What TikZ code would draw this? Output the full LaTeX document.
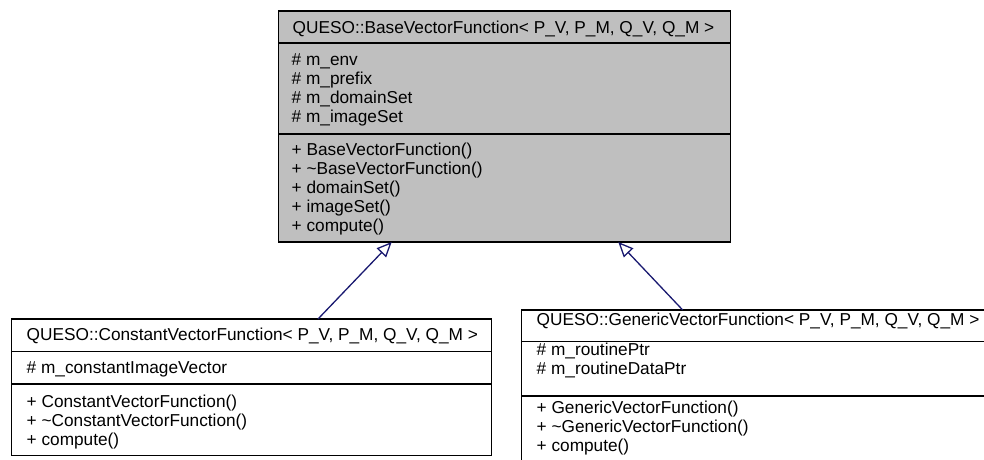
\documentclass[tikz,border=0pt]{standalone}
\usepackage{fontspec}
\setmainfont{Liberation Sans}
\usetikzlibrary{arrows.meta}
\definecolor{umlgrey}{RGB}{191,191,191}
\definecolor{edgeblue}{RGB}{25,25,112}
\tikzset{
  part/.style={draw=black, line width=1.4pt, inner sep=0pt, outer sep=0pt, anchor=north west},
  txt/.style={anchor=base west, inner sep=0pt, outer sep=0pt, font=\fontsize{17.25}{19}\selectfont},
  inh/.style={draw=edgeblue, line width=1.3pt,
    -{Triangle[open, length=15pt, width=13pt, fill=white]}}
}
\begin{document}
\begin{tikzpicture}[x=1pt, y=-1pt]
\useasboundingbox (0,0) rectangle (984,459);
\clip (0,0) rectangle (984,459);

% base class
\node[part, fill=umlgrey, minimum width=452.4pt, minimum height=32pt]  (bT) at (278.3,11) {};
\node[part, fill=umlgrey, minimum width=452.4pt, minimum height=91pt]  (bA) at (278.3,43) {};
\node[part, fill=umlgrey, minimum width=452.4pt, minimum height=108pt] (bO) at (278.3,134) {};
\node[txt] (bTt) at (292.7,33) {QUESO::BaseVectorFunction< P\_V, P\_M, Q\_V, Q\_M >};
\node[txt] (bA1) at (291.7,65.5) {\# m\_env};
\node[txt] (bA2) at (291.7,84.5) {\# m\_prefix};
\node[txt] (bA3) at (291.7,103.5) {\# m\_domainSet};
\node[txt] (bA4) at (291.7,122.5) {\# m\_imageSet};
\node[txt] (bO1) at (291.7,155.5) {+ BaseVectorFunction()};
\node[txt] (bO2) at (291.7,174.5) {+ \textasciitilde BaseVectorFunction()};
\node[txt] (bO3) at (291.7,193.5) {+ domainSet()};
\node[txt] (bO4) at (291.7,212.5) {+ imageSet()};
\node[txt] (bO5) at (291.7,231.5) {+ compute()};

% constant vector function
\node[part, fill=white, minimum width=480pt, minimum height=32.7pt] (cT) at (11.7,319) {};
\node[part, fill=white, minimum width=480pt, minimum height=32.3pt] (cA) at (11.7,351.7) {};
\node[part, fill=white, minimum width=480pt, minimum height=71.7pt] (cO) at (11.7,384) {};
\node[txt] (cTt) at (26.7,340) {QUESO::ConstantVectorFunction< P\_V, P\_M, Q\_V, Q\_M >};
\node[txt] (cA1) at (26.7,373.5) {\# m\_constantImageVector};
\node[txt] (cO1) at (26.7,407) {+ ConstantVectorFunction()};
\node[txt] (cO2) at (26.7,426) {+ \textasciitilde ConstantVectorFunction()};
\node[txt] (cO3) at (26.7,445) {+ compute()};

% generic vector function
\node[part, fill=white, minimum width=474.3pt, minimum height=31.7pt] (gT) at (521.7,310) {};
\node[part, fill=white, minimum width=474.3pt, minimum height=54.3pt] (gA) at (521.7,341.7) {};
\node[part, fill=white, minimum width=474.3pt, minimum height=74pt]   (gO) at (521.7,396) {};
\node[txt] (gTt) at (536.7,325.5) {QUESO::GenericVectorFunction< P\_V, P\_M, Q\_V, Q\_M >};
\node[txt] (gA1) at (536.7,355.5) {\# m\_routinePtr};
\node[txt] (gA2) at (536.7,374.5) {\# m\_routineDataPtr};
\node[txt] (gO1) at (536.7,413.5) {+ GenericVectorFunction()};
\node[txt] (gO2) at (536.7,432.5) {+ \textasciitilde GenericVectorFunction()};
\node[txt] (gO3) at (536.7,451.5) {+ compute()};

% inheritance
\draw[inh] ([xshift=306.3pt]cT.north west) -- ([xshift=113.4pt]bO.south west);
\draw[inh] ([xshift=161pt]gT.north west) -- ([xshift=340pt]bO.south west);
\end{tikzpicture}
\end{document}
